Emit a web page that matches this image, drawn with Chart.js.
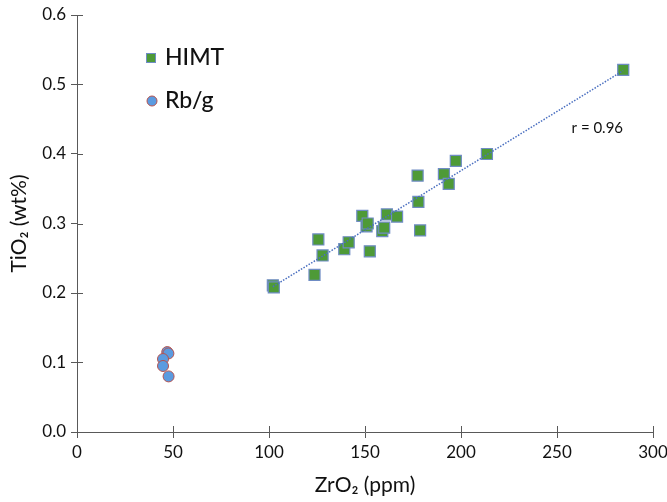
<!DOCTYPE html>
<html>
<head>
<meta charset="utf-8">
<script src="https://cdn.jsdelivr.net/npm/chart.js@4.4.0/dist/chart.umd.min.js"></script>
<style>
  html, body { margin: 0; padding: 0; background: #fff; }
  #wrap { width: 667px; height: 502px; }
</style>
</head>
<body>
<div id="wrap"><canvas id="chart" width="667" height="502"></canvas></div>
<script>
// HIMT samples (ZrO2 ppm, TiO2 wt%)
const himtZr = [102, 102.5, 123.7, 125.7, 127.9, 139.2, 141.5, 148.6, 150.8, 151.4, 152.5, 159, 160, 161.4, 166.7, 177.4, 177.8, 178.7, 191.1, 193.6, 197.3, 213.5, 284.5];
const himtTi = [0.211, 0.208, 0.226, 0.277, 0.254, 0.263, 0.273, 0.311, 0.296, 0.300, 0.260, 0.289, 0.294, 0.313, 0.310, 0.369, 0.331, 0.290, 0.371, 0.357, 0.390, 0.400, 0.521];

// Rb/g samples
const rbgZr = [47, 47.6, 44.8, 44.8, 47.7];
const rbgTi = [0.115, 0.113, 0.105, 0.095, 0.080];

// dotted trend line through the HIMT group
const trendZr = [102, 284.5];
const trendTi = [0.209, 0.520];
const trendLabel = "r = 0.96";

const xTicks = [0, 50, 100, 150, 200, 250, 300];
const yTicks = [0.0, 0.1, 0.2, 0.3, 0.4, 0.5, 0.6];

const legendItems = ["HIMT", "Rb/g"];

const toPoints = (xs, ys) => xs.map((x, i) => ({ x: x, y: ys[i] }));

const FONT = "Lato, 'Open Sans', sans-serif";
const AXIS = "#595959";
const TEXT = "#111";

// draws tick marks crossing the axes, the legend and the r label
const extras = {
  id: "extras",
  afterDraw(chart) {
    const ctx = chart.ctx;
    const xs = chart.scales.x, ys = chart.scales.y;
    const area = chart.chartArea;
    ctx.save();
    ctx.strokeStyle = AXIS;
    ctx.lineWidth = 1;
    ctx.beginPath();
    xTicks.forEach(v => {
      const px = Math.round(xs.getPixelForValue(v)) + 0.5;
      ctx.moveTo(px, area.bottom);
      ctx.lineTo(px, area.bottom - 6);
    });
    yTicks.forEach(v => {
      const py = Math.round(ys.getPixelForValue(v)) + 0.5;
      ctx.moveTo(area.left, py);
      ctx.lineTo(area.left + 6, py);
    });
    ctx.stroke();

    // legend
    ctx.font = "500 23px " + FONT;
    ctx.textBaseline = "middle";
    ctx.fillStyle = TEXT;
    ctx.fillText(legendItems[0], 165, 58);
    ctx.fillText(legendItems[1], 165, 101);
    ctx.fillStyle = "#4e9a37";
    ctx.strokeStyle = "#6f8cc4";
    ctx.fillRect(146, 53, 10, 10);
    ctx.strokeRect(146.5, 53.5, 9, 9);
    ctx.beginPath();
    ctx.arc(152, 101, 5, 0, Math.PI * 2);
    ctx.fillStyle = "#5b9be0";
    ctx.fill();
    ctx.strokeStyle = "#b5524e";
    ctx.stroke();

    // r label
    ctx.font = "15px " + FONT;
    ctx.fillStyle = TEXT;
    ctx.textAlign = "center";
    ctx.fillText(trendLabel, xs.getPixelForValue(271), ys.getPixelForValue(0.437));
    ctx.restore();
  }
};

new Chart(document.getElementById("chart"), {
  type: "scatter",
  data: {
    datasets: [
      {
        label: "trend",
        type: "line",
        data: toPoints(trendZr, trendTi),
        borderColor: "#4a6fc0",
        borderWidth: 1.5,
        borderDash: [1.5, 1.5],
        pointRadius: 0,
        fill: false
      },
      {
        label: legendItems[0],
        data: toPoints(himtZr, himtTi),
        pointStyle: "rect",
        pointRadius: 7.8,
        backgroundColor: "#4e9a37",
        borderColor: "#6f8cc4",
        borderWidth: 1.2
      },
      {
        label: legendItems[1],
        data: toPoints(rbgZr, rbgTi),
        pointStyle: "circle",
        pointRadius: 5.5,
        backgroundColor: "#5b9be0",
        borderColor: "#b5524e",
        borderWidth: 1
      }
    ]
  },
  options: {
    responsive: false,
    animation: false,
    layout: { autoPadding: false, padding: { top: 15, right: 14, left: 0, bottom: 0 } },
    plugins: {
      legend: { display: false },
      tooltip: { enabled: false }
    },
    scales: {
      x: {
        type: "linear",
        min: 0,
        max: 300,
        afterBuildTicks: s => { s.ticks = xTicks.map(v => ({ value: v })); },
        afterFit: s => { s.height = 70; s.paddingLeft = 0; s.paddingRight = 0; },
        grid: { display: true, drawOnChartArea: false, tickLength: 6, color: AXIS },
        border: { color: AXIS, width: 1 },
        ticks: { color: TEXT, font: { family: FONT, size: 17 }, padding: 4 },
        title: {
          display: true,
          text: "ZrO₂ (ppm)",
          color: TEXT,
          font: { family: FONT, size: 21 },
          padding: { top: 5 }
        }
      },
      y: {
        type: "linear",
        min: 0,
        max: 0.6,
        afterBuildTicks: s => { s.ticks = yTicks.map(v => ({ value: v })); },
        afterFit: s => { s.width = 77; s.paddingTop = 0; s.paddingBottom = 0; },
        grid: { display: true, drawOnChartArea: false, tickLength: 6, color: AXIS },
        border: { color: AXIS, width: 1 },
        ticks: {
          color: TEXT,
          font: { family: FONT, size: 17 },
          padding: 5,
          callback: v => Number(v).toFixed(1)
        },
        title: {
          display: true,
          text: "TiO₂ (wt%)",
          color: TEXT,
          font: { family: FONT, size: 21 },
          padding: { top: 7, bottom: 0 }
        }
      }
    }
  },
  plugins: [extras]
});
</script>
</body>
</html>
